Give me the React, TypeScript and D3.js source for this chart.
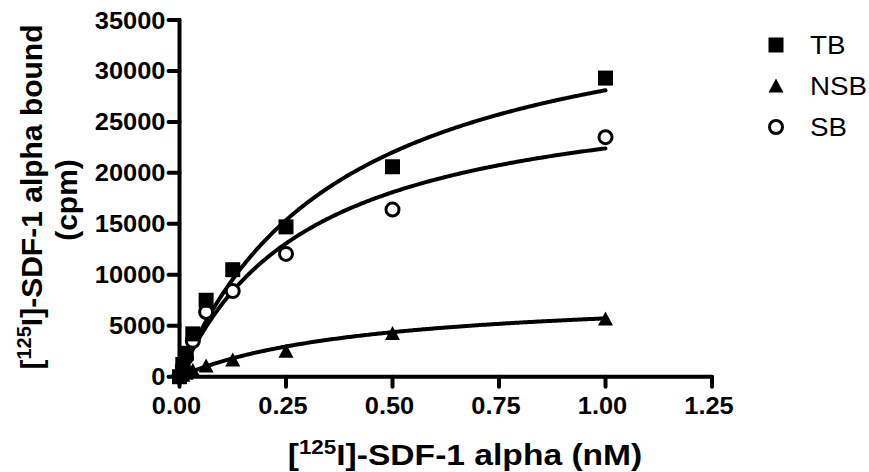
import React from "react";
import * as d3 from "d3";

const conc = [0, 0.0078, 0.0156, 0.03125, 0.0625, 0.125, 0.25, 0.5, 1.0];
const tbValues = [0, 1200, 2300, 4200, 7500, 10500, 14700, 20600, 29300];
const nsbValues = [0, 150, 350, 600, 1050, 1650, 2500, 4250, 5650];
const sbValues = [0, 1000, 1900, 3500, 6350, 8400, 12050, 16400, 23500];

// one-site binding fit parameters (Bmax, Kd)
const tbFit = { bmax: 38870, kd: 0.383 };
const nsbFit = { bmax: 8300, kd: 0.45 };
const sbFit = { bmax: 29390, kd: 0.312 };

const yTicks = [0, 5000, 10000, 15000, 20000, 25000, 30000, 35000];
const xTicks = [0, 0.25, 0.5, 0.75, 1.0, 1.25];
const legendLabels = ["TB", "NSB", "SB"];

const W = 869;
const H = 472;
const FONT = "'Liberation Sans', Arial, sans-serif";

export default function App() {
  const x = d3.scaleLinear().domain([0, 1.25]).range([179.5, 712]);
  const y = d3.scaleLinear().domain([0, 35000]).range([376.7, 20]);

  const fitX = d3.range(0, 1.0001, 0.004);
  const line = d3
    .line<number>()
    .x((d) => x(d))
    .curve(d3.curveLinear);

  const fitPath = (p: { bmax: number; kd: number }) =>
    line.y((d) => y((p.bmax * d) / (p.kd + d)))(fitX) as string;

  const sq = 15;
  const square = (cx: number, cy: number, k: string) => (
    <rect key={k} x={cx - sq / 2} y={cy - sq / 2} width={sq} height={sq} fill="#000" />
  );
  const tri = (cx: number, cy: number, k: string) => (
    <path
      key={k}
      d={`M${cx},${cy - 7.5} L${cx + 7.5},${cy + 6.5} L${cx - 7.5},${cy + 6.5} Z`}
      fill="#000"
    />
  );
  const circ = (cx: number, cy: number, k: string) => (
    <circle key={k} cx={cx} cy={cy} r={6.5} fill="#fff" stroke="#000" strokeWidth={3} />
  );

  const fmtX = d3.format(".2f");
  const st = (tx: number, ty: number, s: number) => `translate(${tx},${ty}) scale(${s},1)`;

  return (
    <svg
      width={W}
      height={H}
      style={{ position: "absolute", left: 0, top: 0, background: "#fff" }}
      fontFamily={FONT}
    >
      {/* fit curves */}
      <path d={fitPath(tbFit)} fill="none" stroke="#000" strokeWidth={4} strokeLinecap="round" />
      <path d={fitPath(sbFit)} fill="none" stroke="#000" strokeWidth={4} strokeLinecap="round" />
      <path d={fitPath(nsbFit)} fill="none" stroke="#000" strokeWidth={4} strokeLinecap="round" />

      {/* axes */}
      <g stroke="#000" strokeWidth={4} strokeLinecap="round">
        <line x1={x(0)} x2={x(0)} y1={y(35000)} y2={y(0)} />
        <line x1={x(0)} x2={x(1.25)} y1={y(0)} y2={y(0)} />
        {yTicks.map((t) => (
          <line key={"yt" + t} x1={x(0) - 11} x2={x(0)} y1={y(t)} y2={y(t)} />
        ))}
        {xTicks.map((t) => (
          <line key={"xt" + t} x1={x(t)} x2={x(t)} y1={y(0)} y2={y(0) + 10} />
        ))}
      </g>
      <g fontSize={24} fontWeight="bold" fill="#000">
        {yTicks.map((t) => (
          <text key={"yl" + t} transform={st(x(0) - 14, y(t) + 8.5, 1.06)} textAnchor="end">
            {t}
          </text>
        ))}
        {xTicks.map((t) => (
          <text key={"xl" + t} transform={st(x(t) - 3, 414, 1.06)} textAnchor="middle">
            {fmtX(t)}
          </text>
        ))}
      </g>

      {/* data points */}
      {conc.map((c, i) => circ(x(c), y(sbValues[i]), "sb" + i))}
      {conc.map((c, i) => tri(x(c), y(nsbValues[i]), "nsb" + i))}
      {conc.map((c, i) => square(x(c), y(tbValues[i]), "tb" + i))}

      {/* axis titles */}
      <text transform={st(465, 465, 1.12)} textAnchor="middle" fontSize={30} fontWeight="bold">
        [<tspan fontSize={20} dy={-11}>125</tspan>
        <tspan dy={11}>I]-SDF-1 alpha (nM)</tspan>
      </text>
      <g transform="translate(0,197) rotate(-90)" fontSize={30} fontWeight="bold">
        <text x={0} y={42} textAnchor="middle">
          [<tspan fontSize={20} dy={-11}>125</tspan>
          <tspan dy={11}>I]-SDF-1 alpha bound</tspan>
        </text>
        <text x={-3} y={77} textAnchor="middle">
          (cpm)
        </text>
      </g>

      {/* legend */}
      {square(776, 45, "lg0")}
      {tri(776, 86, "lg1")}
      {circ(776, 127, "lg2")}
      {legendLabels.map((l, i) => (
        <text key={l} transform={st(810, 54 + i * 41, 1.11)} fontSize={25}>
          {l}
        </text>
      ))}
    </svg>
  );
}
